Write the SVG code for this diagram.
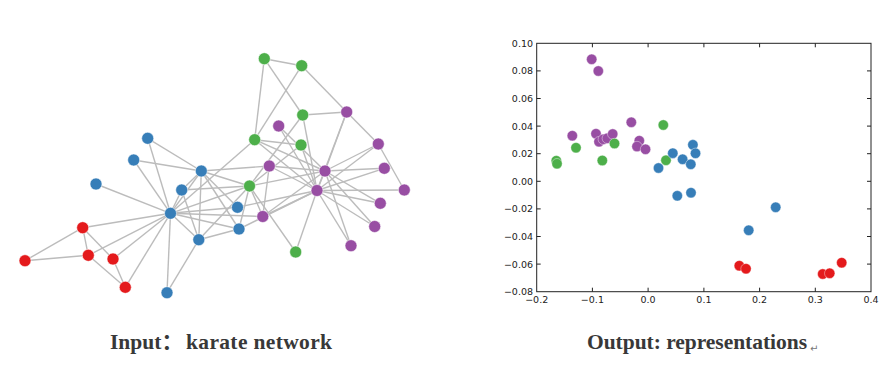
<svg xmlns="http://www.w3.org/2000/svg" width="896" height="365" viewBox="0 0 896 365">
<style>
.e{stroke:#bcbcbc;stroke-width:1.4;fill:none}
.b{fill:#377eb8}.r{fill:#e41a1c}.g{fill:#4daf4a}.p{fill:#984ea3}
.nd circle{stroke:#ffffff;stroke-opacity:.55;stroke-width:1}
.pt{stroke:#ffffff;stroke-opacity:.5;stroke-width:0.8}
.tk{font-family:"DejaVu Sans",sans-serif;font-size:9.5px;fill:#222}
.cap{font-family:"Liberation Serif","Noto Sans CJK SC",serif;font-weight:bold;font-size:21.5px;fill:#383838}
</style>
<rect width="896" height="365" fill="#ffffff"/>
<g id="edges" class="e">
<line x1="170.5" y1="213.3" x2="201.3" y2="171"/>
<line x1="170.5" y1="213.3" x2="249.5" y2="186"/>
<line x1="170.5" y1="213.3" x2="198.8" y2="239.7"/>
<line x1="170.5" y1="213.3" x2="125.3" y2="287.3"/>
<line x1="170.5" y1="213.3" x2="82.7" y2="227.7"/>
<line x1="170.5" y1="213.3" x2="88.3" y2="255.3"/>
<line x1="170.5" y1="213.3" x2="181.7" y2="190"/>
<line x1="170.5" y1="213.3" x2="262.8" y2="216.5"/>
<line x1="170.5" y1="213.3" x2="113" y2="259"/>
<line x1="170.5" y1="213.3" x2="96" y2="184"/>
<line x1="170.5" y1="213.3" x2="167" y2="292.7"/>
<line x1="170.5" y1="213.3" x2="239" y2="229"/>
<line x1="170.5" y1="213.3" x2="147.7" y2="138.3"/>
<line x1="170.5" y1="213.3" x2="237.5" y2="207.3"/>
<line x1="170.5" y1="213.3" x2="133.7" y2="160"/>
<line x1="170.5" y1="213.3" x2="254.7" y2="139.7"/>
<line x1="201.3" y1="171" x2="249.5" y2="186"/>
<line x1="201.3" y1="171" x2="198.8" y2="239.7"/>
<line x1="201.3" y1="171" x2="181.7" y2="190"/>
<line x1="201.3" y1="171" x2="239" y2="229"/>
<line x1="201.3" y1="171" x2="147.7" y2="138.3"/>
<line x1="201.3" y1="171" x2="237.5" y2="207.3"/>
<line x1="201.3" y1="171" x2="133.7" y2="160"/>
<line x1="201.3" y1="171" x2="269.3" y2="166"/>
<line x1="249.5" y1="186" x2="198.8" y2="239.7"/>
<line x1="249.5" y1="186" x2="181.7" y2="190"/>
<line x1="249.5" y1="186" x2="262.8" y2="216.5"/>
<line x1="249.5" y1="186" x2="295.7" y2="252"/>
<line x1="249.5" y1="186" x2="239" y2="229"/>
<line x1="249.5" y1="186" x2="302.7" y2="115"/>
<line x1="249.5" y1="186" x2="301" y2="145"/>
<line x1="249.5" y1="186" x2="325" y2="171"/>
<line x1="198.8" y1="239.7" x2="181.7" y2="190"/>
<line x1="198.8" y1="239.7" x2="167" y2="292.7"/>
<line x1="198.8" y1="239.7" x2="239" y2="229"/>
<line x1="125.3" y1="287.3" x2="88.3" y2="255.3"/>
<line x1="125.3" y1="287.3" x2="113" y2="259"/>
<line x1="82.7" y1="227.7" x2="88.3" y2="255.3"/>
<line x1="82.7" y1="227.7" x2="113" y2="259"/>
<line x1="82.7" y1="227.7" x2="25" y2="260.7"/>
<line x1="88.3" y1="255.3" x2="25" y2="260.7"/>
<line x1="262.8" y1="216.5" x2="269.3" y2="166"/>
<line x1="262.8" y1="216.5" x2="325" y2="171"/>
<line x1="262.8" y1="216.5" x2="317" y2="190.5"/>
<line x1="295.7" y1="252" x2="317" y2="190.5"/>
<line x1="239" y1="229" x2="317" y2="190.5"/>
<line x1="278.7" y1="126" x2="325" y2="171"/>
<line x1="278.7" y1="126" x2="317" y2="190.5"/>
<line x1="384.3" y1="168.3" x2="325" y2="171"/>
<line x1="384.3" y1="168.3" x2="317" y2="190.5"/>
<line x1="380.3" y1="203.3" x2="325" y2="171"/>
<line x1="380.3" y1="203.3" x2="317" y2="190.5"/>
<line x1="237.5" y1="207.3" x2="317" y2="190.5"/>
<line x1="374.7" y1="226.5" x2="325" y2="171"/>
<line x1="374.7" y1="226.5" x2="317" y2="190.5"/>
<line x1="351" y1="245.7" x2="325" y2="171"/>
<line x1="351" y1="245.7" x2="317" y2="190.5"/>
<line x1="346.7" y1="112" x2="301.7" y2="65.7"/>
<line x1="346.7" y1="112" x2="302.7" y2="115"/>
<line x1="346.7" y1="112" x2="378.3" y2="144"/>
<line x1="346.7" y1="112" x2="325" y2="171"/>
<line x1="346.7" y1="112" x2="317" y2="190.5"/>
<line x1="264.3" y1="58.7" x2="301.7" y2="65.7"/>
<line x1="264.3" y1="58.7" x2="302.7" y2="115"/>
<line x1="264.3" y1="58.7" x2="254.7" y2="139.7"/>
<line x1="301.7" y1="65.7" x2="254.7" y2="139.7"/>
<line x1="404.3" y1="190" x2="378.3" y2="144"/>
<line x1="404.3" y1="190" x2="317" y2="190.5"/>
<line x1="302.7" y1="115" x2="317" y2="190.5"/>
<line x1="301" y1="145" x2="254.7" y2="139.7"/>
<line x1="301" y1="145" x2="317" y2="190.5"/>
<line x1="378.3" y1="144" x2="325" y2="171"/>
<line x1="378.3" y1="144" x2="317" y2="190.5"/>
<line x1="269.3" y1="166" x2="325" y2="171"/>
<line x1="269.3" y1="166" x2="317" y2="190.5"/>
<line x1="254.7" y1="139.7" x2="325" y2="171"/>
<line x1="254.7" y1="139.7" x2="317" y2="190.5"/>
<line x1="325" y1="171" x2="317" y2="190.5"/>
</g>
<g class="nd">
<g id="n0"><circle class="b" cx="170.5" cy="213.3" r="6"/></g>
<g id="n1"><circle class="b" cx="201.3" cy="171" r="6"/></g>
<g id="n2"><circle class="g" cx="249.5" cy="186" r="6"/></g>
<g id="n3"><circle class="b" cx="198.8" cy="239.7" r="6"/></g>
<g id="n4"><circle class="r" cx="125.3" cy="287.3" r="6"/></g>
<g id="n5"><circle class="r" cx="82.7" cy="227.7" r="6"/></g>
<g id="n6"><circle class="r" cx="88.3" cy="255.3" r="6"/></g>
<g id="n7"><circle class="b" cx="181.7" cy="190" r="6"/></g>
<g id="n8"><circle class="p" cx="262.8" cy="216.5" r="6"/></g>
<g id="n9"><circle class="g" cx="295.7" cy="252" r="6"/></g>
<g id="n10"><circle class="r" cx="113" cy="259" r="6"/></g>
<g id="n11"><circle class="b" cx="96" cy="184" r="6"/></g>
<g id="n12"><circle class="b" cx="167" cy="292.7" r="6"/></g>
<g id="n13"><circle class="b" cx="239" cy="229" r="6"/></g>
<g id="n14"><circle class="p" cx="278.7" cy="126" r="6"/></g>
<g id="n15"><circle class="p" cx="384.3" cy="168.3" r="6"/></g>
<g id="n16"><circle class="r" cx="25" cy="260.7" r="6"/></g>
<g id="n17"><circle class="b" cx="147.7" cy="138.3" r="6"/></g>
<g id="n18"><circle class="p" cx="380.3" cy="203.3" r="6"/></g>
<g id="n19"><circle class="b" cx="237.5" cy="207.3" r="6"/></g>
<g id="n20"><circle class="p" cx="374.7" cy="226.5" r="6"/></g>
<g id="n21"><circle class="b" cx="133.7" cy="160" r="6"/></g>
<g id="n22"><circle class="p" cx="351" cy="245.7" r="6"/></g>
<g id="n23"><circle class="p" cx="346.7" cy="112" r="6"/></g>
<g id="n24"><circle class="g" cx="264.3" cy="58.7" r="6"/></g>
<g id="n25"><circle class="g" cx="301.7" cy="65.7" r="6"/></g>
<g id="n26"><circle class="p" cx="404.3" cy="190" r="6"/></g>
<g id="n27"><circle class="g" cx="302.7" cy="115" r="6"/></g>
<g id="n28"><circle class="g" cx="301" cy="145" r="6"/></g>
<g id="n29"><circle class="p" cx="378.3" cy="144" r="6"/></g>
<g id="n30"><circle class="p" cx="269.3" cy="166" r="6"/></g>
<g id="n31"><circle class="g" cx="254.7" cy="139.7" r="6"/></g>
<g id="n32"><circle class="p" cx="325" cy="171" r="6"/></g>
<g id="n33"><circle class="p" cx="317" cy="190.5" r="6"/></g>
</g>
<g id="plot">
<rect x="536.7" y="43.3" width="334.3" height="248.4" fill="none" stroke="#222" stroke-width="1"/>
<path stroke="#222" stroke-width="1" fill="none" d="M592.4,291.7v-4M648.1,291.7v-4M703.9,291.7v-4M759.6,291.7v-4M815.3,291.7v-4M592.4,43.3v4M648.1,43.3v4M703.9,43.3v4M759.6,43.3v4M815.3,43.3v4M536.7,70.9h4M536.7,98.5h4M536.7,126.1h4M536.7,153.7h4M536.7,181.3h4M536.7,208.9h4M536.7,236.5h4M536.7,264.1h4M871,70.9h-4M871,98.5h-4M871,126.1h-4M871,153.7h-4M871,181.3h-4M871,208.9h-4M871,236.5h-4M871,264.1h-4"/>
<g class="tk" text-anchor="end">
<text x="533" y="46.7">0.10</text>
<text x="533" y="74.3">0.08</text>
<text x="533" y="101.9">0.06</text>
<text x="533" y="129.5">0.04</text>
<text x="533" y="157.1">0.02</text>
<text x="533" y="184.7">0.00</text>
<text x="533" y="212.3">−0.02</text>
<text x="533" y="239.9">−0.04</text>
<text x="533" y="267.5">−0.06</text>
<text x="533" y="294.6">−0.08</text>
</g>
<g class="tk" text-anchor="middle">
<text x="536.7" y="303">−0.2</text>
<text x="592.4" y="303">−0.1</text>
<text x="648.1" y="303">0.0</text>
<text x="703.9" y="303">0.1</text>
<text x="759.6" y="303">0.2</text>
<text x="815.3" y="303">0.3</text>
<text x="871" y="303">0.4</text>
</g>
<g id="pts">
<circle class="pt p" cx="591.7" cy="59.3" r="5.2"/>
<circle class="pt p" cx="598.3" cy="71" r="5.2"/>
<circle class="pt p" cx="572.3" cy="135.7" r="5.2"/>
<circle class="pt p" cx="596" cy="133.7" r="5.2"/>
<circle class="pt p" cx="599" cy="141.7" r="5.2"/>
<circle class="pt p" cx="603.3" cy="139.3" r="5.2"/>
<circle class="pt p" cx="607.3" cy="138.3" r="5.2"/>
<circle class="pt p" cx="612.7" cy="134" r="5.2"/>
<circle class="pt p" cx="631.3" cy="122.3" r="5.2"/>
<circle class="pt p" cx="639.3" cy="140.7" r="5.2"/>
<circle class="pt p" cx="637" cy="146.5" r="5.2"/>
<circle class="pt p" cx="645.5" cy="149.3" r="5.2"/>
<circle class="pt g" cx="556.3" cy="160.7" r="5.2"/>
<circle class="pt g" cx="557" cy="163.7" r="5.2"/>
<circle class="pt g" cx="576" cy="147.7" r="5.2"/>
<circle class="pt g" cx="602.3" cy="160.5" r="5.2"/>
<circle class="pt g" cx="614.5" cy="143.5" r="5.2"/>
<circle class="pt g" cx="663.3" cy="125" r="5.2"/>
<circle class="pt b" cx="658.5" cy="168" r="5.2"/>
<circle class="pt g" cx="666" cy="160.3" r="5.2"/>
<circle class="pt b" cx="672.8" cy="153.2" r="5.2"/>
<circle class="pt b" cx="682.6" cy="159.3" r="5.2"/>
<circle class="pt b" cx="690.8" cy="164.3" r="5.2"/>
<circle class="pt b" cx="692.9" cy="144.8" r="5.2"/>
<circle class="pt b" cx="695.5" cy="153.3" r="5.2"/>
<circle class="pt b" cx="677.3" cy="195.8" r="5.2"/>
<circle class="pt b" cx="691" cy="192.7" r="5.2"/>
<circle class="pt b" cx="775.7" cy="207.3" r="5.2"/>
<circle class="pt b" cx="748.7" cy="230.3" r="5.2"/>
<circle class="pt r" cx="739.3" cy="265.7" r="5.2"/>
<circle class="pt r" cx="746" cy="268.7" r="5.2"/>
<circle class="pt r" cx="822.7" cy="274" r="5.2"/>
<circle class="pt r" cx="829.7" cy="273.3" r="5.2"/>
<circle class="pt r" cx="841.7" cy="262.7" r="5.2"/>
</g>
</g>
<text class="cap" y="349"><tspan x="110">Input：</tspan><tspan x="186" textLength="146">karate network</tspan></text>
<text class="cap" x="587" y="349" textLength="220">Output: representations</text>
<text x="810" y="352" font-family="DejaVu Sans,sans-serif" font-size="10" fill="#777">↵</text>
</svg>
